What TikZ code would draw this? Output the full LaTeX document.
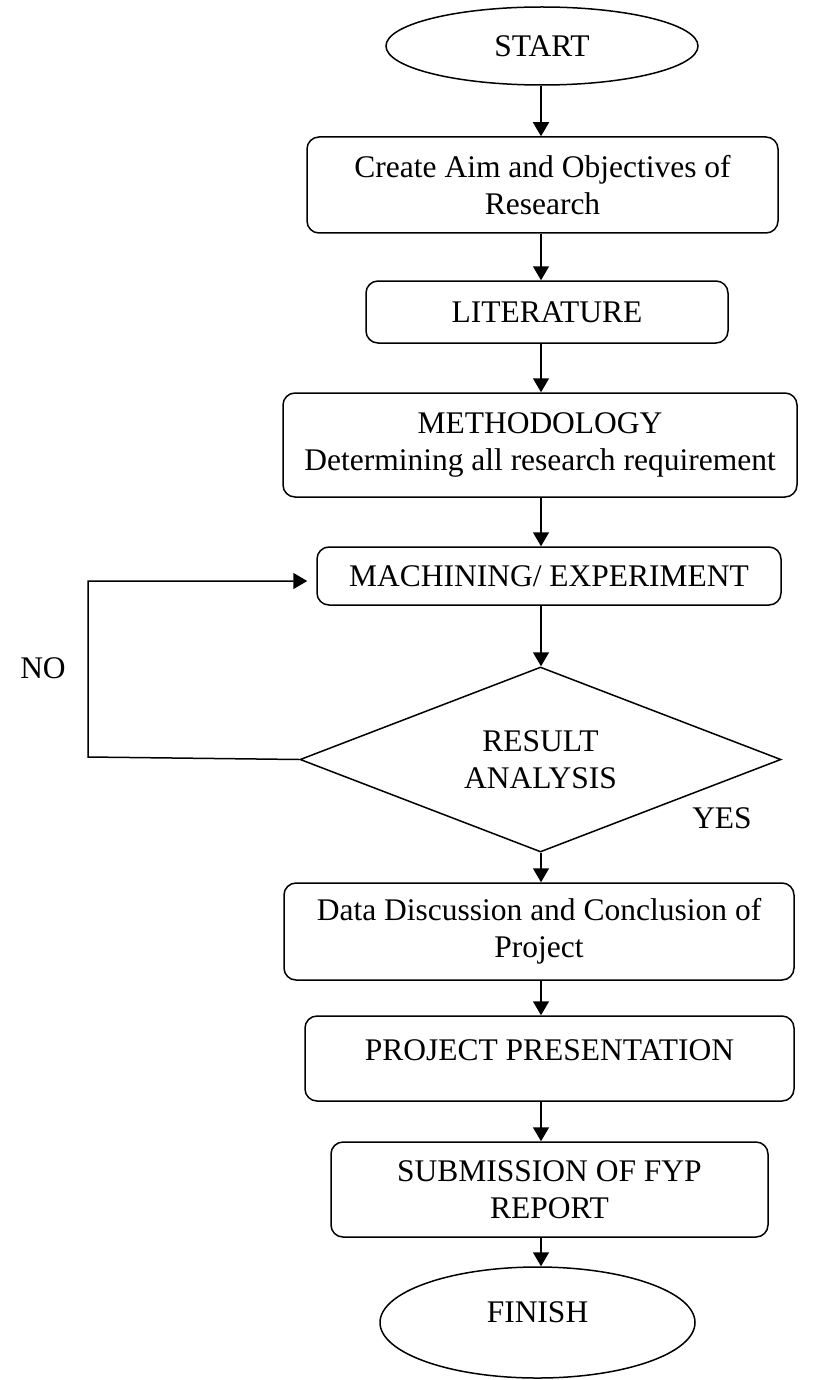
\documentclass[tikz,border=0pt]{standalone}
\usepackage{fontspec}
\setmainfont{Liberation Serif}
\usetikzlibrary{shapes.geometric,arrows.meta}
\begin{document}
\begin{tikzpicture}[x=1pt,y=-1pt,line width=1.5pt,
  every node/.style={font=\fontsize{31.5}{37.5}\selectfont},
  stepbox/.style={draw,rounded corners=12pt,inner sep=0pt,align=center},
  term/.style={draw,ellipse,inner sep=0pt},
  arr/.style={-{Triangle[length=14pt,width=16pt]}},
  lbl/.style={inner sep=0pt}]
\useasboundingbox (0,0) rectangle (825,1380);
\coordinate (axis) at (541,0);

% process chain
\node[term,minimum width=312pt,minimum height=78pt] (start) at (542,46) {START};
\node[stepbox,minimum width=471pt,minimum height=96pt] (aim) at (542.5,185)
  {Create Aim and Objectives of\\Research};
\node[stepbox,minimum width=362pt,minimum height=62pt] (lit) at (547,312) {LITERATURE};
\node[stepbox,minimum width=514pt,minimum height=104pt] (meth) at (540,445)
  {METHODOLOGY\\Determining all research requirement};
\node[stepbox,minimum width=464pt,minimum height=58pt] (mach) at (549,576) {MACHINING/ EXPERIMENT};
\node[draw,diamond,aspect=2.6,inner sep=0pt,minimum width=481pt,minimum height=185pt,align=center]
  (dec) at (540.5,759.5) {RESULT\\ANALYSIS};
\node[stepbox,minimum width=510pt,minimum height=97pt] (disc) at (539,931.5)
  {Data Discussion and Conclusion of\\Project};
\node[stepbox,minimum width=489pt,minimum height=85pt,text depth=17pt] (pres) at (549.5,1058.5)
  {PROJECT PRESENTATION};
\node[stepbox,minimum width=437pt,minimum height=95pt] (sub) at (549.5,1189.5)
  {SUBMISSION OF FYP\\REPORT};
\node[term,minimum width=315pt,minimum height=111pt,text depth=20pt] (fin) at (537.5,1322.5) {FINISH};

% decision labels
\node[lbl] (no) at (43,668) {NO};
\node[lbl] (yes) at (722,818) {YES};

% connectors
\draw[arr] (start.south -| axis) -- (aim.north -| axis);
\draw[arr] (aim.south -| axis) -- (lit.north -| axis);
\draw[arr] (lit.south -| axis) -- (meth.north -| axis);
\draw[arr] (meth.south -| axis) -- (mach.north -| axis);
\draw[arr] (mach.south -| axis) -- (dec.north -| axis);
\draw[arr] (dec.south -| axis) -- (disc.north -| axis);
\draw[arr] (disc.south -| axis) -- (pres.north -| axis);
\draw[arr] (pres.south -| axis) -- (sub.north -| axis);
\draw[arr] (sub.south -| axis) -- (fin.north -| axis);

% NO loop back to machining
\coordinate (nb) at (88,757);
\coordinate (nt) at (88,581);
\draw[arr,shorten >=9pt] (dec.west) -- (nb) -- (nt) -- (nt -| mach.west);
\end{tikzpicture}
\end{document}
